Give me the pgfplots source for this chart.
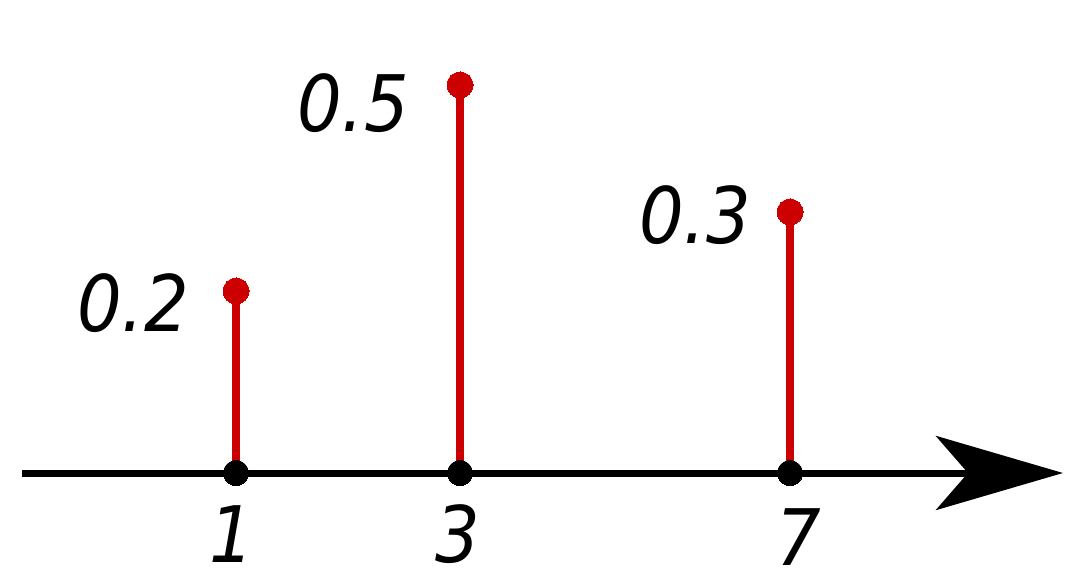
\documentclass[border=0pt]{standalone}
\usepackage{pgfplots}
\pgfplotsset{compat=1.18}
\usepackage{fontspec}
\setmainfont{DejaVu Sans Condensed}
\usetikzlibrary{arrows.meta}
\definecolor{stemred}{RGB}{204,0,0}
\begin{document}
\begin{tikzpicture}
\begin{axis}[
  scale only axis, width=1080bp, height=581bp,
  xmin=0, xmax=1080, ymin=-108, ymax=473,
  hide axis, clip=false,
]
% invisible frame fixing the picture's extent
\path (axis cs:0,-108) rectangle (axis cs:1080,473);
% baseline arrow
\addplot[black, line width=7bp, -{Stealth[length=127bp, width=74bp, inset=32bp]}]
  coordinates {(22,0) (1063,0)};
% stems (x = position of sample, y = drawn height)
\addplot[stemred, line width=8bp, ycomb, mark=*, mark size=13bp,
  mark options={fill=stemred, draw=stemred, line width=0bp}]
  coordinates {(236,182) (460,388) (790,261)};
% base dots
\addplot[only marks, black, mark=*, mark size=12.7bp,
  mark options={fill=black, line width=0bp}]
  coordinates {(236,0) (460,0) (790,0)};
\begin{scope}[font=\fontsize{78bp}{90bp}\selectfont\itshape, inner sep=0pt]
\node[anchor=east] at (axis cs:189,169.5) {0.2};
\node[anchor=east] at (axis cs:409,369.5) {0.5};
\node[anchor=east] at (axis cs:751,257.5) {0.3};
\node at (axis cs:232,-61.5) {1};
\node at (axis cs:458,-61) {3};
\node at (axis cs:799,-64) {7};
\end{scope}
\end{axis}
\end{tikzpicture}
\end{document}
